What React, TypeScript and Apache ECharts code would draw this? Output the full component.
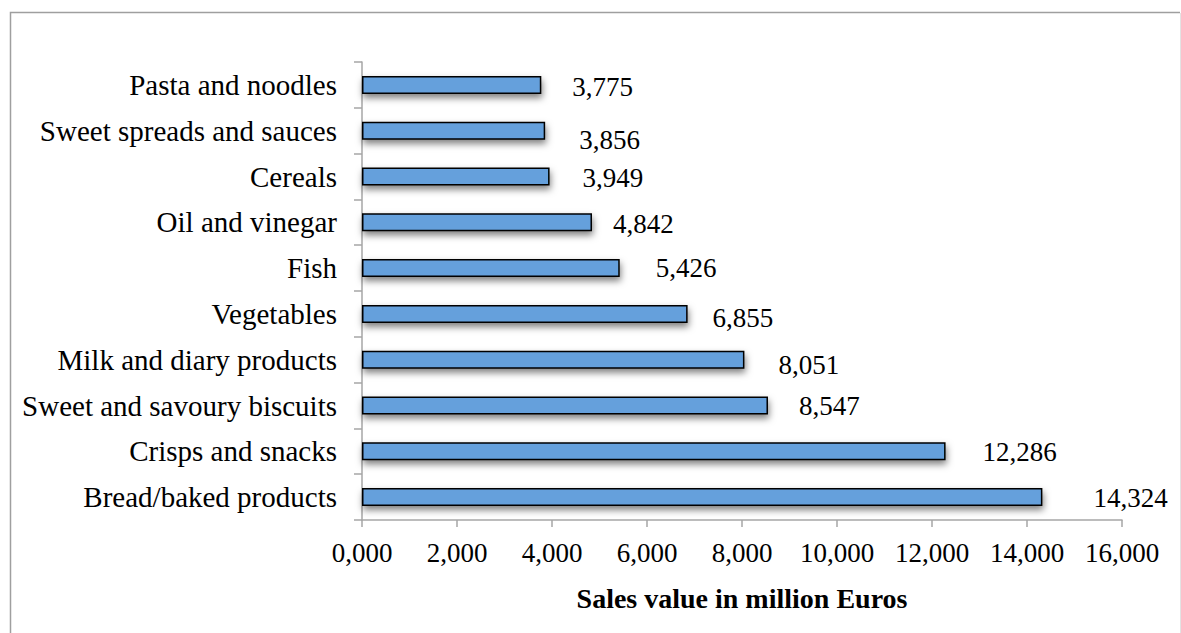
import React, { useEffect, useRef } from "react";
import * as echarts from "echarts";

// Product categories, listed from the bottom bar upwards
const categories: string[] = [
  "Bread/baked products",
  "Crisps and snacks",
  "Sweet and savoury biscuits",
  "Milk and diary products",
  "Vegetables",
  "Fish",
  "Oil and vinegar",
  "Cereals",
  "Sweet spreads and sauces",
  "Pasta and noodles",
];

// Sales value in million Euros
const salesValues: number[] = [14324, 12286, 8547, 8051, 6855, 5426, 4842, 3949, 3856, 3775];

// Value axis settings
const axisMin = 0;
const axisMax = 16000;
const axisStep = 2000;

const axisTitle = "Sales value in million Euros";

// Small per-label nudges [dx, dy] for the value labels
const labelNudges: [number, number][] = [
  [51, 1], [37, 1], [31, 0], [34, 5], [25, 4],
  [36, 0], [21, 2], [33, 1], [34, 9], [31, 2],
];

const FONT = "'Liberation Serif', 'Times New Roman', serif";

// 14324 -> "14,324", 0 -> "0,000"
function fmtThousands(v: number): string {
  const thousands = Math.floor(v / 1000);
  const rest = Math.round(v % 1000);
  return `${thousands},${String(rest).padStart(3, "0")}`;
}

export default function App() {
  const ref = useRef<HTMLDivElement | null>(null);

  useEffect(() => {
    document.body.style.margin = "0";
    if (!ref.current) return;
    const chart = echarts.init(ref.current, undefined, { renderer: "svg" });

    const barData = salesValues.map((v, i) => ({
      value: v,
      label: { offset: labelNudges[i] },
    }));

    chart.setOption({
      animation: false,
      backgroundColor: "#ffffff",
      textStyle: { fontFamily: FONT },
      graphic: [
        // chart frame: darker top and left edges, faint right edge
        {
          type: "polyline",
          shape: { points: [[10.5, 660], [10.5, 12.5], [1180, 12.5]] },
          style: { fill: "none", stroke: "#9f9f9f", lineWidth: 1.5 },
          silent: true,
        },
        {
          type: "line",
          shape: { x1: 1180.5, y1: 13, x2: 1180.5, y2: 660 },
          style: { stroke: "#e3e3e3", lineWidth: 1 },
          silent: true,
        },
      ],
      grid: { left: 362, right: 59, top: 62, bottom: 113, containLabel: false },
      xAxis: {
        type: "value",
        min: axisMin,
        max: axisMax,
        interval: axisStep,
        name: axisTitle,
        nameLocation: "middle",
        nameGap: 64,
        nameTextStyle: {
          fontFamily: FONT,
          fontWeight: "bold",
          fontSize: 28,
          color: "#000",
        },
        axisLine: { show: true, lineStyle: { color: "#a6a6a6", width: 1.5 } },
        axisTick: { show: true, length: 7, lineStyle: { color: "#a6a6a6", width: 1.5 } },
        axisLabel: {
          fontFamily: FONT,
          fontSize: 27,
          color: "#000",
          margin: 19,
          formatter: (v: number) => fmtThousands(v),
        },
        splitLine: { show: false },
      },
      yAxis: {
        type: "category",
        data: categories,
        axisLine: { show: true, lineStyle: { color: "#a6a6a6", width: 1.5 } },
        axisTick: { show: true, length: 8, alignWithLabel: false, lineStyle: { color: "#a6a6a6", width: 1.5 } },
        axisLabel: {
          fontFamily: FONT,
          fontSize: 29,
          color: "#000",
          margin: 25,
        },
      },
      series: [
        {
          type: "bar",
          data: barData,
          barWidth: 18,
          itemStyle: {
            color: "#65a0dc",
            borderColor: "#000",
            borderWidth: 1.5,
            shadowColor: "rgba(0,0,0,0.5)",
            shadowBlur: 7,
            shadowOffsetY: 4,
            shadowOffsetX: 1,
          },
          label: {
            show: true,
            position: "right",
            distance: 0,
            fontFamily: FONT,
            fontSize: 27,
            color: "#000",
            formatter: (p: any) => fmtThousands(p.value),
          },
        },
      ],
    });

    return () => chart.dispose();
  }, []);

  return <div ref={ref} style={{ width: 1181, height: 633 }} />;
}
